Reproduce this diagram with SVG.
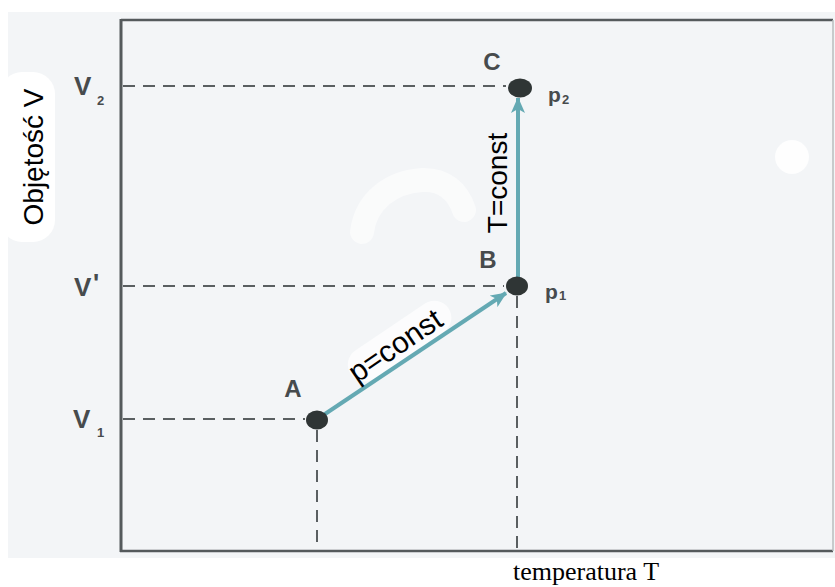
<svg xmlns="http://www.w3.org/2000/svg" width="835" height="587" viewBox="0 0 835 587">
  <defs>
    <style>
      .frame { stroke: #555a5c; stroke-width: 2.5; fill: none; }
      .dash { stroke: #5a5f61; stroke-width: 2; stroke-dasharray: 12 8; fill: none; }
      .flow { stroke: #64a9b3; stroke-width: 4; fill: none; }
      .dot { fill: #2f3535; }
      .pt { font-family: "Liberation Sans", Arial, sans-serif; font-weight: bold; font-size: 24px; fill: #474b4d; }
      .lab { font-family: "Liberation Sans", Arial, sans-serif; font-size: 28px; fill: #000; }
      .sub { font-size: 13px; }
      .axis { font-family: "Liberation Serif", "Times New Roman", serif; font-size: 26px; fill: #000; }
    </style>
    <marker id="arrow" viewBox="0 0 16 14" refX="15" refY="7" markerWidth="16" markerHeight="14" markerUnits="userSpaceOnUse" orient="auto">
      <path d="M0,0 L16,7 L0,14 L4,7 Z" fill="#64a9b3"/>
    </marker>
  </defs>

  <rect x="0" y="0" width="835" height="587" fill="#ffffff"/>
  <rect x="8" y="12" width="827" height="546" fill="#f3f5f7"/>

  <!-- watermark smudges -->
  <path d="M362,232 C366,200 392,182 422,180 C444,179 458,192 464,210" stroke="#ffffff" stroke-width="24" stroke-linecap="round" fill="none" opacity="0.55"/>
  <circle cx="792" cy="157" r="17" fill="#ffffff" opacity="0.85"/>
  <rect x="343" y="324" width="118" height="34" rx="17" fill="#ffffff" opacity="0.7" transform="rotate(-34 401 345)"/>

  <!-- frame -->
  <g id="frame">
    <line x1="121" y1="20" x2="833" y2="20" class="frame"/>
    <line x1="121" y1="19" x2="121" y2="552" class="frame" style="stroke-width:3"/>
    <line x1="120" y1="551" x2="833" y2="551" class="frame"/>
    <line x1="833" y1="20" x2="833" y2="551" stroke="#b8bcbe" stroke-width="1.5"/>
  </g>

  <!-- axis labels -->
  <rect x="0" y="72" width="55" height="170" rx="22" fill="#ffffff"/>
  <text class="lab" transform="translate(43,157) rotate(-90)" text-anchor="middle">Objętość V</text>
  <text class="axis" x="513" y="580">temperatura T</text>

  <g id="tick-labels">
    <text class="pt" x="74" y="95" style="font-size:26px">V<tspan class="sub" x="97" y="105">2</tspan></text>
    <text class="pt" x="74" y="296" style="font-size:26px">V<tspan x="93" y="292">'</tspan></text>
    <text class="pt" x="73" y="428" style="font-size:26px">V<tspan class="sub" x="97" y="437">1</tspan></text>
  </g>

  <!-- connectors -->
  <g id="connectors">
    <line x1="123" y1="86" x2="506" y2="86" class="dash"/>
    <line x1="123" y1="286" x2="504" y2="286" class="dash"/>
    <line x1="123" y1="419" x2="305" y2="419" class="dash"/>
    <line x1="317" y1="430" x2="317" y2="550" class="dash"/>
    <line x1="517" y1="296" x2="517" y2="550" class="dash"/>
    <line x1="322" y1="416" x2="506" y2="293" class="flow" marker-end="url(#arrow)"/>
    <line x1="518" y1="280" x2="518" y2="98" class="flow" marker-end="url(#arrow)"/>
  </g>

  <!-- process labels -->
  <text class="lab" transform="translate(401,354) rotate(-34)" text-anchor="middle" style="font-size:30px">p=const</text>
  <text class="lab" transform="translate(507,183) rotate(-90)" text-anchor="middle">T=const</text>

  <!-- nodes -->
  <g id="node-A">
    <ellipse cx="317" cy="420" rx="11" ry="9.5" class="dot"/>
    <text class="pt" x="293" y="397" text-anchor="middle">A</text>
  </g>
  <g id="node-B">
    <ellipse cx="517" cy="286" rx="11" ry="9.5" class="dot"/>
    <text class="pt" x="488" y="268" text-anchor="middle">B</text>
    <text class="pt" x="545" y="299" style="font-size:21px">p<tspan class="sub" x="559" y="300">1</tspan></text>
  </g>
  <g id="node-C">
    <ellipse cx="520" cy="88" rx="12" ry="9.5" class="dot"/>
    <text class="pt" x="492" y="70" text-anchor="middle">C</text>
    <text class="pt" x="548" y="102" style="font-size:21px">p<tspan class="sub" x="562" y="104">2</tspan></text>
  </g>
</svg>
